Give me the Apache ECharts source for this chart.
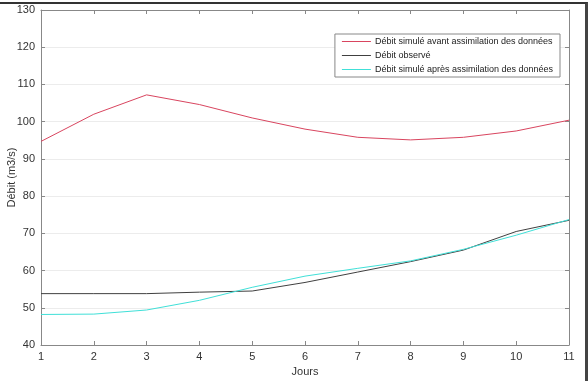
<!DOCTYPE html>
<html><head><meta charset="utf-8">
<script src="https://cdn.jsdelivr.net/npm/echarts@6/dist/echarts.min.js"></script>
<style>
html,body{margin:0;padding:0;background:#fff;}
#frame{position:absolute;left:0;top:2px;width:585px;height:379px;border-top:2px solid #333;border-right:3px solid #444;box-sizing:content-box;}
#c{position:absolute;left:0;top:0;width:588px;height:381px;}
</style>
</head><body>
<div id="c"></div>
<div id="frame"></div>
<script>
const days = [1,2,3,4,5,6,7,8,9,10,11];
const avant = [94.7,102.0,107.2,104.6,101.0,98.0,95.8,95.1,95.8,97.5,100.4];
const observe = [53.8,53.8,53.8,54.2,54.5,56.8,59.6,62.4,65.5,70.5,73.5];
const apres = [48.2,48.3,49.4,52.0,55.5,58.5,60.6,62.6,65.7,69.5,73.7];
const names = ['Débit simulé avant assimilation des données','Débit observé','Débit simulé après assimilation des données'];
const pair = (xs, ys) => xs.map((x,i)=>[x, ys[i]]);
const font = 'Liberation Sans, Arial, sans-serif';
const chart = echarts.init(document.getElementById('c'), null, {renderer:'canvas'});
const axisLine = {show:true, lineStyle:{color:'#888', width:1}};
chart.setOption({
  animation:false,
  backgroundColor:'#fff',
  grid:{left:41, right:19, top:10, bottom:36, show:false, containLabel:false, outerBoundsMode:'none'},
  legend:{
    orient:'vertical', right:28, top:34, data:names,
    backgroundColor:'#fff', borderColor:'#888', borderWidth:1,
    padding:[3,7,3,7], itemGap:5, itemWidth:29, itemHeight:9,
    textStyle:{fontFamily:font, fontSize:9, color:'#222', padding:[0,0,0,-1]},
    icon:'path://M0,5 L28,5 L28,6 L0,6 Z'
  },
  xAxis:[{
    type:'value', min:1, max:11, interval:1, position:'bottom',
    name:'Jours', nameLocation:'middle', nameGap:21, nameMoveOverlap:false,
    nameTextStyle:{fontFamily:font, fontSize:11, color:'#333'},
    axisLine:axisLine, axisTick:{show:true, inside:true, length:4, lineStyle:{color:'#888'}},
    axisLabel:{fontFamily:font, fontSize:11, color:'#333', margin:6},
    splitLine:{show:false}
  },{
    type:'value', min:1, max:11, interval:1, position:'top',
    axisLine:axisLine, axisTick:{show:true, inside:true, length:4, lineStyle:{color:'#888'}},
    axisLabel:{show:false}, splitLine:{show:false}
  }],
  yAxis:[{
    type:'value', min:40, max:130, interval:10, position:'left',
    name:'Débit (m3/s)', nameLocation:'middle', nameGap:29, nameRotate:90, nameMoveOverlap:false,
    nameTextStyle:{fontFamily:font, fontSize:11, color:'#333', verticalAlign:'middle'},
    axisLine:axisLine, axisTick:{show:true, inside:true, length:4, lineStyle:{color:'#888'}},
    axisLabel:{fontFamily:font, fontSize:11, color:'#333', margin:6},
    splitLine:{show:true, lineStyle:{color:'#ececec', width:1}}
  },{
    type:'value', min:40, max:130, interval:10, position:'right',
    axisLine:axisLine, axisTick:{show:true, inside:true, length:4, lineStyle:{color:'#888'}},
    axisLabel:{show:false}, splitLine:{show:false}
  }],
  series:[
    {name:names[0], type:'line', data:pair(days, avant), showSymbol:false, lineStyle:{color:'#d9455f', width:1}, itemStyle:{color:'#d9455f'}},
    {name:names[1], type:'line', data:pair(days, observe), showSymbol:false, lineStyle:{color:'#404040', width:1}, itemStyle:{color:'#404040'}},
    {name:names[2], type:'line', data:pair(days, apres), showSymbol:false, lineStyle:{color:'#40e0d8', width:1}, itemStyle:{color:'#40e0d8'}}
  ]
});
</script>
</body></html>
